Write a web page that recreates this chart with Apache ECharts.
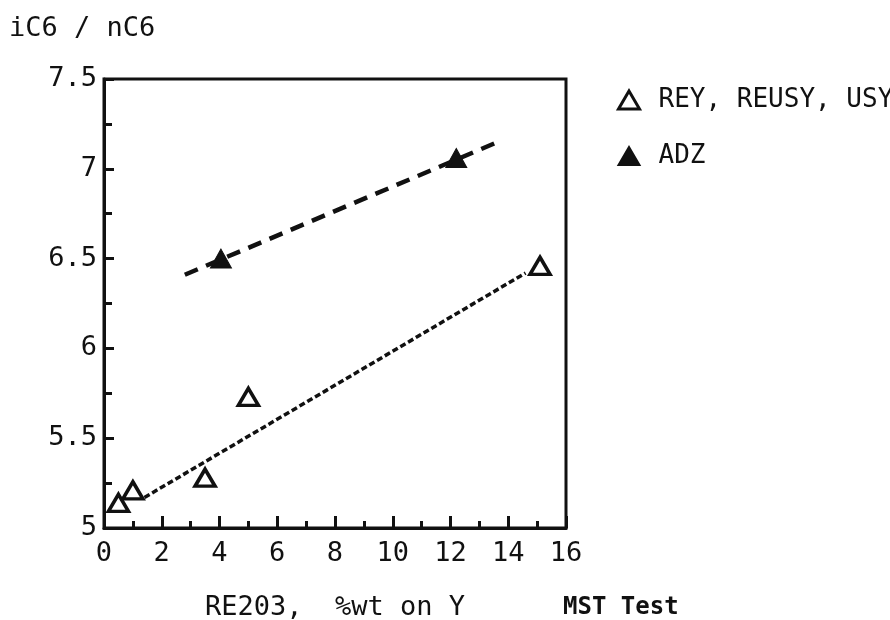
<!DOCTYPE html>
<html>
<head>
<meta charset="utf-8">
<script src="https://cdn.jsdelivr.net/npm/echarts@6/dist/echarts.min.js"></script>
<style>
  html, body { margin: 0; padding: 0; background: #fff; }
  #chart { width: 890px; height: 620px; }
</style>
</head>
<body>
<div id="chart"></div>
<script>
// open triangles: REY, REUSY, USY
const reyX = [0.5, 1.0, 3.5, 5.0, 15.1];
const reyY = [5.14, 5.21, 5.28, 5.73, 6.46];
// filled triangles: ADZ
const adzX = [4.05, 12.2];
const adzY = [6.5, 7.06];
// fitted lines (end points)
const reyFitX = [1.4, 14.6];
const reyFitY = [5.17, 6.42];
const adzFitX = [2.8, 13.65];
const adzFitY = [6.41, 7.15];

const font = "DejaVu Sans Mono";
const pairs = (xs, ys) => xs.map((x, i) => [x, ys[i]]);

let chart = echarts.init(document.getElementById("chart"));
let option = {
  backgroundColor: "#fff",
  animation: false,
  textStyle: { fontFamily: font, color: "#111" },
  grid: {
    left: 104, right: 324, top: 79, bottom: 92,
    outerBoundsMode: "none",
    show: true, borderColor: "#111", borderWidth: 3
  },
  legend: {
    orient: "vertical",
    left: 612, top: 82,
    itemWidth: 21, itemHeight: 18, itemGap: 30,
    data: [
      { name: "REY, REUSY, USY", itemStyle: { color: "#fff", borderColor: "#111", borderWidth: 3 } },
      { name: "ADZ" }
    ],
    textStyle: { fontFamily: font, fontSize: 26, color: "#111", padding: [0, 0, 0, 14] }
  },
  xAxis: {
    type: "value", min: 0, max: 16, interval: 2,
    name: "RE203,  %wt on Y", nameLocation: "middle", nameGap: 66,
    nameTextStyle: { fontFamily: font, fontSize: 27, color: "#111" },
    axisLine: { lineStyle: { color: "#111", width: 3 } },
    axisTick: { inside: true, length: 12, lineStyle: { width: 3, color: "#111" } },
    minorTick: { show: true, splitNumber: 2, length: 7, lineStyle: { width: 3, color: "#111" } },
    axisLabel: { fontFamily: font, fontSize: 27, color: "#111", margin: 12 },
    splitLine: { show: false }
  },
  yAxis: {
    type: "value", min: 5, max: 7.5, interval: 0.5,
    axisLine: { show: true, lineStyle: { color: "#111", width: 3 } },
    axisTick: { show: true, inside: true, length: 10, lineStyle: { width: 3, color: "#111" } },
    minorTick: { show: true, splitNumber: 2, length: 8, lineStyle: { width: 3, color: "#111" } },
    axisLabel: {
      fontFamily: font, fontSize: 27, color: "#111", margin: 7,
      formatter: v => (v === 5 || v === 6 || v === 7) ? String(v) : v.toFixed(1)
    },
    splitLine: { show: false }
  },
  graphic: [
    {
      type: "text", left: 9, top: 15,
      style: { text: "iC6 / nC6", fontFamily: font, fontSize: 27, fill: "#111" }
    },
    {
      type: "text", left: 563, top: 596,
      style: { text: "MST Test", fontFamily: font, fontSize: 24, fontWeight: "bold", fill: "#111" }
    }
  ],
  series: [
    {
      name: "adzFit", type: "line", data: pairs(adzFitX, adzFitY),
      symbol: "none", silent: true,
      lineStyle: { color: "#111", width: 4.5, type: [14, 9] }
    },
    {
      name: "reyFit", type: "line", data: pairs(reyFitX, reyFitY),
      symbol: "none", silent: true,
      lineStyle: { color: "#111", width: 3.5, type: [6, 3] }
    },
    {
      name: "REY, REUSY, USY", type: "scatter", data: pairs(reyX, reyY),
      symbol: "triangle", symbolSize: [20, 17],
      itemStyle: { color: "#fff", borderColor: "#111", borderWidth: 3.5, opacity: 1 }
    },
    {
      name: "ADZ", type: "scatter", data: pairs(adzX, adzY),
      symbol: "triangle", symbolSize: [21, 19],
      itemStyle: { color: "#111", borderColor: "#111", borderWidth: 1, opacity: 1 }
    }
  ]
};
chart.setOption(option);
</script>
</body>
</html>
